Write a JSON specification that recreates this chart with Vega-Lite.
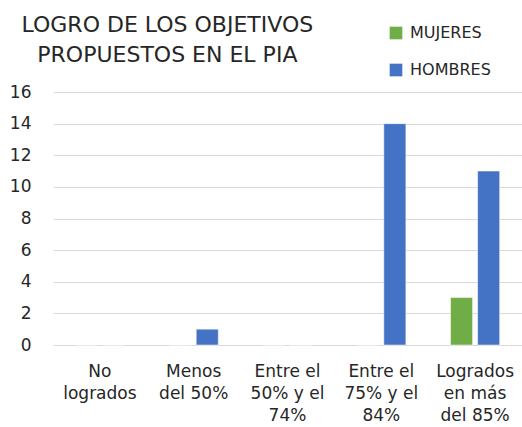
{
  "$schema": "https://vega.github.io/schema/vega-lite/v6.json",
  "autosize": "none",
  "width": 469,
  "height": 253,
  "padding": {"left": 53, "top": 92, "right": 0, "bottom": 82},
  "background": "white",
  "config": {
    "font": "DejaVu Sans",
    "view": {"stroke": null}
  },
  "title": {
    "text": ["LOGRO DE LOS OBJETIVOS", "PROPUESTOS EN EL PIA"],
    "anchor": "start",
    "align": "center",
    "dx": 158,
    "dy": 64,
    "fontSize": 22,
    "fontWeight": "normal",
    "color": "#262626",
    "lineHeight": 30,
    "offset": 22
  },
  "data": {
    "values": [
      {"cat": "No|logrados", "serie": "MUJERES", "valor": 0},
      {"cat": "No|logrados", "serie": "HOMBRES", "valor": 0},
      {"cat": "Menos|del 50%", "serie": "MUJERES", "valor": 0},
      {"cat": "Menos|del 50%", "serie": "HOMBRES", "valor": 1},
      {"cat": "Entre el|50% y el|74%", "serie": "MUJERES", "valor": 0},
      {"cat": "Entre el|50% y el|74%", "serie": "HOMBRES", "valor": 0},
      {"cat": "Entre el|75% y el|84%", "serie": "MUJERES", "valor": 0},
      {"cat": "Entre el|75% y el|84%", "serie": "HOMBRES", "valor": 14},
      {"cat": "Logrados|en más|del 85%", "serie": "MUJERES", "valor": 3},
      {"cat": "Logrados|en más|del 85%", "serie": "HOMBRES", "valor": 11}
    ]
  },
  "mark": {"type": "bar", "stroke": "#ffffff", "strokeOpacity": 0.5, "strokeWidth": 1},
  "encoding": {
    "x": {
      "field": "cat",
      "type": "nominal",
      "sort": null,
      "scale": {"paddingInner": 0.476, "paddingOuter": 0.238},
      "axis": {
        "title": null,
        "labelAngle": 0,
        "domain": false,
        "ticks": false,
        "labelExpr": "split(datum.label, '|')",
        "labelFontSize": 17,
        "labelLineHeight": 22,
        "labelColor": "#262626",
        "labelPadding": 18,
        "labelBaseline": "top"
      }
    },
    "xOffset": {
      "field": "serie",
      "sort": ["MUJERES", "HOMBRES"],
      "scale": {"paddingInner": 0.185, "paddingOuter": 0}
    },
    "y": {
      "field": "valor",
      "type": "quantitative",
      "scale": {"domain": [0, 16], "nice": false},
      "axis": {
        "title": null,
        "values": [0, 2, 4, 6, 8, 10, 12, 14, 16],
        "domain": false,
        "ticks": false,
        "grid": true,
        "gridColor": "#d9d9d9",
        "gridWidth": 1.2,
        "labelFontSize": 17,
        "labelColor": "#262626",
        "labelPadding": 22
      }
    },
    "color": {
      "field": "serie",
      "type": "nominal",
      "sort": ["MUJERES", "HOMBRES"],
      "scale": {"domain": ["MUJERES", "HOMBRES"], "range": ["#70AD47", "#4472C4"]},
      "legend": {
        "title": null,
        "orient": "none",
        "legendX": 335,
        "legendY": -67,
        "symbolType": "square",
        "symbolSize": 160,
        "symbolStrokeWidth": 0,
        "labelFontSize": 16,
        "labelColor": "#262626",
        "labelOffset": 6,
        "rowPadding": 21
      }
    }
  }
}
